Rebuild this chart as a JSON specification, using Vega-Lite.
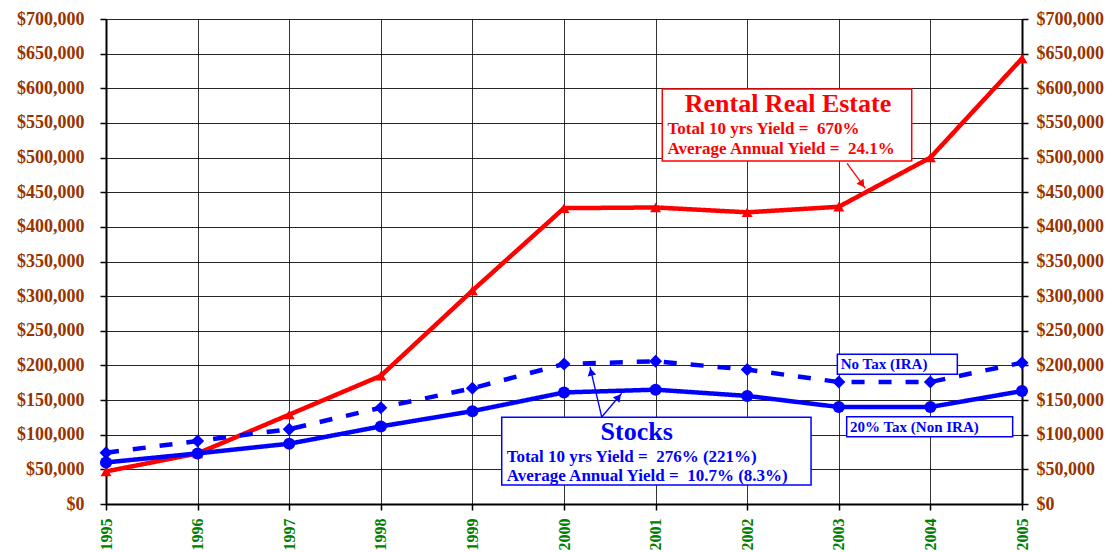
{
  "$schema": "https://vega.github.io/schema/vega-lite/v6.json",
  "autosize": {"type": "none"},
  "width": 916,
  "height": 485,
  "padding": {"left": 106, "top": 19, "right": 93, "bottom": 48},
  "background": "white",
  "config": {
    "view": {"stroke": null},
    "axisX": {
      "format": "d",
      "labelAngle": 270, "labelAlign": "right", "labelBaseline": "middle",
      "labelFont": "Liberation Serif", "labelFontWeight": "bold", "labelFontSize": 16,
      "labelColor": "#008000", "labelPadding": 8, "labelOverlap": false,
      "tickSize": 6, "tickColor": "#000", "tickWidth": 1.5,
      "domainColor": "#000", "domainWidth": 2,
      "grid": true, "gridColor": "#000", "gridWidth": 1, "gridOpacity": 0.8
    }
  },
  "datasets": {
    "series": [
      {"year": 1995, "series": "Rental Real Estate", "value": 47000},
      {"year": 1996, "series": "Rental Real Estate", "value": 73000},
      {"year": 1997, "series": "Rental Real Estate", "value": 129000},
      {"year": 1998, "series": "Rental Real Estate", "value": 185000},
      {"year": 1999, "series": "Rental Real Estate", "value": 308000},
      {"year": 2000, "series": "Rental Real Estate", "value": 427000},
      {"year": 2001, "series": "Rental Real Estate", "value": 428000},
      {"year": 2002, "series": "Rental Real Estate", "value": 421000},
      {"year": 2003, "series": "Rental Real Estate", "value": 429000},
      {"year": 2004, "series": "Rental Real Estate", "value": 500000},
      {"year": 2005, "series": "Rental Real Estate", "value": 643000},
      {"year": 1995, "series": "No Tax (IRA)", "value": 74000},
      {"year": 1996, "series": "No Tax (IRA)", "value": 91000},
      {"year": 1997, "series": "No Tax (IRA)", "value": 108000},
      {"year": 1998, "series": "No Tax (IRA)", "value": 139000},
      {"year": 1999, "series": "No Tax (IRA)", "value": 167000},
      {"year": 2000, "series": "No Tax (IRA)", "value": 202000},
      {"year": 2001, "series": "No Tax (IRA)", "value": 206000},
      {"year": 2002, "series": "No Tax (IRA)", "value": 194000},
      {"year": 2003, "series": "No Tax (IRA)", "value": 176000},
      {"year": 2004, "series": "No Tax (IRA)", "value": 176000},
      {"year": 2005, "series": "No Tax (IRA)", "value": 204000},
      {"year": 1995, "series": "20% Tax (Non IRA)", "value": 60000},
      {"year": 1996, "series": "20% Tax (Non IRA)", "value": 73000},
      {"year": 1997, "series": "20% Tax (Non IRA)", "value": 87000},
      {"year": 1998, "series": "20% Tax (Non IRA)", "value": 112000},
      {"year": 1999, "series": "20% Tax (Non IRA)", "value": 134000},
      {"year": 2000, "series": "20% Tax (Non IRA)", "value": 161000},
      {"year": 2001, "series": "20% Tax (Non IRA)", "value": 165000},
      {"year": 2002, "series": "20% Tax (Non IRA)", "value": 156000},
      {"year": 2003, "series": "20% Tax (Non IRA)", "value": 140000},
      {"year": 2004, "series": "20% Tax (Non IRA)", "value": 140000},
      {"year": 2005, "series": "20% Tax (Non IRA)", "value": 163000}
    ],
    "boxes": [
      {"group": "rental", "x": 2001.073, "x2": 2003.796, "y": 599000, "y2": 495000},
      {"group": "stocks", "x": 1999.32, "x2": 2002.697, "y": 125100, "y2": 27400},
      {"group": "stocks", "x": 2002.984, "x2": 2004.294, "y": 216100, "y2": 187200},
      {"group": "stocks", "x": 2003.086, "x2": 2004.898, "y": 126000, "y2": 97100}
    ],
    "titles": [
      {"group": "rental", "x": 2002.445, "y": 577000, "text": "Rental Real Estate"},
      {"group": "stocks", "x": 2000.794, "y": 103500, "text": "Stocks"}
    ],
    "notes": [
      {"group": "rental", "x": 2001.13, "y": 540800, "text": "Total 10 yrs Yield = \u00a0670%"},
      {"group": "rental", "x": 2001.13, "y": 512400, "text": "Average Annual Yield = \u00a024.1%"},
      {"group": "stocks", "x": 1999.374, "y": 68300, "text": "Total 10 yrs Yield = \u00a0276% (221%)"},
      {"group": "stocks", "x": 1999.374, "y": 40800, "text": "Average Annual Yield = \u00a010.7% (8.3%)"}
    ],
    "labels": [
      {"group": "stocks", "x": 2003.021, "y": 202000, "text": "No Tax (IRA)"},
      {"group": "stocks", "x": 2003.122, "y": 111600, "text": "20% Tax (Non IRA)"}
    ],
    "arrows": [
      {"group": "rental", "x": 2003.09, "y": 491700, "x2": 2003.29, "y2": 455600, "hx": 2003.255, "hy": 461500, "angle": 145},
      {"group": "stocks", "x": 2000.412, "y": 125600, "x2": 2000.284, "y2": 197700, "hx": 2000.296, "hy": 190800, "angle": 347},
      {"group": "stocks", "x": 2000.412, "y": 125600, "x2": 2000.63, "y2": 159800, "hx": 2000.596, "hy": 154300, "angle": 40}
    ]
  },
  "resolve": {
    "axis": {"y": "independent"},
    "scale": {"color": "independent", "size": "independent", "shape": "independent", "strokeDash": "independent", "stroke": "independent"}
  },
  "layer": [
    {
      "data": {"name": "series"},
      "mark": {"type": "line", "strokeWidth": 4.5},
      "encoding": {
        "x": {
          "field": "year", "type": "quantitative", "title": null,
          "scale": {"domain": [1995, 2005], "nice": false, "zero": false},
          "axis": {"values": [1995, 1996, 1997, 1998, 1999, 2000, 2001, 2002, 2003, 2004, 2005]}
        },
        "y": {
          "field": "value", "type": "quantitative",
          "scale": {"domain": [0, 700000], "nice": false},
          "axis": {
            "orient": "left", "title": null, "format": "$,.0f",
            "values": [0, 50000, 100000, 150000, 200000, 250000, 300000, 350000, 400000, 450000, 500000, 550000, 600000, 650000, 700000],
            "labelFont": "Liberation Serif", "labelFontWeight": "bold", "labelFontSize": 18,
            "labelColor": "#993300", "labelPadding": 16, "labelOverlap": false,
            "tickSize": 6, "tickColor": "#000", "tickWidth": 1.5,
            "domainColor": "#000", "domainWidth": 2,
            "grid": true, "gridColor": "#000", "gridWidth": 1, "gridOpacity": 0.85
          }
        },
        "color": {
          "field": "series", "type": "nominal", "legend": null,
          "scale": {"domain": ["No Tax (IRA)", "20% Tax (Non IRA)", "Rental Real Estate"], "range": ["#0000FF", "#0000FF", "#FF0000"]}
        },
        "strokeDash": {
          "field": "series", "type": "nominal", "legend": null,
          "scale": {"domain": ["No Tax (IRA)", "20% Tax (Non IRA)", "Rental Real Estate"], "range": [[13, 14], [1, 0], [1, 0]]}
        }
      }
    },
    {
      "data": {"name": "series"},
      "mark": {"type": "point", "filled": true, "opacity": 1},
      "encoding": {
        "x": {"field": "year", "type": "quantitative", "title": null, "axis": {"values": [1995, 1996, 1997, 1998, 1999, 2000, 2001, 2002, 2003, 2004, 2005]}},
        "y": {
          "field": "value", "type": "quantitative",
          "axis": {
            "orient": "right", "title": null, "format": "$,.0f",
            "values": [0, 50000, 100000, 150000, 200000, 250000, 300000, 350000, 400000, 450000, 500000, 550000, 600000, 650000, 700000],
            "labelFont": "Liberation Serif", "labelFontWeight": "bold", "labelFontSize": 18,
            "labelColor": "#993300", "labelPadding": 8, "labelOverlap": false,
            "tickSize": 6, "tickColor": "#000", "tickWidth": 1.5,
            "domainColor": "#000", "domainWidth": 2,
            "grid": false
          }
        },
        "color": {
          "field": "series", "type": "nominal", "legend": null,
          "scale": {"domain": ["No Tax (IRA)", "20% Tax (Non IRA)", "Rental Real Estate"], "range": ["#0000FF", "#0000FF", "#FF0000"]}
        },
        "shape": {
          "field": "series", "type": "nominal", "legend": null,
          "scale": {"domain": ["No Tax (IRA)", "20% Tax (Non IRA)", "Rental Real Estate"], "range": ["diamond", "circle", "triangle-up"]}
        },
        "size": {
          "field": "series", "type": "nominal", "legend": null,
          "scale": {"domain": ["No Tax (IRA)", "20% Tax (Non IRA)", "Rental Real Estate"], "range": [170, 120, 260]}
        }
      }
    },
    {
      "data": {"name": "arrows"},
      "mark": {"type": "rule", "strokeWidth": 1.3},
      "encoding": {
        "x": {"field": "x", "type": "quantitative", "title": null, "axis": {"values": [1995, 1996, 1997, 1998, 1999, 2000, 2001, 2002, 2003, 2004, 2005]}},
        "y": {"field": "y", "type": "quantitative", "axis": null},
        "x2": {"field": "x2"},
        "y2": {"field": "y2"},
        "color": {"field": "group", "type": "nominal", "legend": null, "scale": {"domain": ["rental", "stocks"], "range": ["#FF0000", "#0000FF"]}}
      }
    },
    {
      "data": {"name": "arrows"},
      "mark": {"type": "point", "shape": "triangle-up", "filled": true, "opacity": 1, "size": 75},
      "encoding": {
        "x": {"field": "hx", "type": "quantitative", "title": null, "axis": {"values": [1995, 1996, 1997, 1998, 1999, 2000, 2001, 2002, 2003, 2004, 2005]}},
        "y": {"field": "hy", "type": "quantitative", "axis": null},
        "angle": {"field": "angle", "type": "quantitative", "scale": null},
        "color": {"field": "group", "type": "nominal", "legend": null, "scale": {"domain": ["rental", "stocks"], "range": ["#FF0000", "#0000FF"]}}
      }
    },
    {
      "data": {"name": "boxes"},
      "mark": {"type": "rect", "fill": "white", "strokeWidth": 1.5},
      "encoding": {
        "x": {"field": "x", "type": "quantitative", "title": null, "axis": {"values": [1995, 1996, 1997, 1998, 1999, 2000, 2001, 2002, 2003, 2004, 2005]}},
        "x2": {"field": "x2"},
        "y": {"field": "y", "type": "quantitative", "axis": null},
        "y2": {"field": "y2"},
        "stroke": {"field": "group", "type": "nominal", "legend": null, "scale": {"domain": ["rental", "stocks"], "range": ["#FF0000", "#0000FF"]}}
      }
    },
    {
      "data": {"name": "titles"},
      "mark": {"type": "text", "font": "Liberation Serif", "fontWeight": "bold", "fontSize": 26, "align": "center", "baseline": "middle"},
      "encoding": {
        "x": {"field": "x", "type": "quantitative", "title": null, "axis": {"values": [1995, 1996, 1997, 1998, 1999, 2000, 2001, 2002, 2003, 2004, 2005]}},
        "y": {"field": "y", "type": "quantitative", "axis": null},
        "text": {"field": "text"},
        "color": {"field": "group", "type": "nominal", "legend": null, "scale": {"domain": ["rental", "stocks"], "range": ["#FF0000", "#0000FF"]}}
      }
    },
    {
      "data": {"name": "notes"},
      "mark": {"type": "text", "font": "Liberation Serif", "fontWeight": "bold", "fontSize": 17, "align": "left", "baseline": "middle"},
      "encoding": {
        "x": {"field": "x", "type": "quantitative", "title": null, "axis": {"values": [1995, 1996, 1997, 1998, 1999, 2000, 2001, 2002, 2003, 2004, 2005]}},
        "y": {"field": "y", "type": "quantitative", "axis": null},
        "text": {"field": "text"},
        "color": {"field": "group", "type": "nominal", "legend": null, "scale": {"domain": ["rental", "stocks"], "range": ["#FF0000", "#0000FF"]}}
      }
    },
    {
      "data": {"name": "labels"},
      "mark": {"type": "text", "font": "Liberation Serif", "fontWeight": "bold", "fontSize": 15, "align": "left", "baseline": "middle", "color": "#0000FF"},
      "encoding": {
        "x": {"field": "x", "type": "quantitative", "title": null, "axis": {"values": [1995, 1996, 1997, 1998, 1999, 2000, 2001, 2002, 2003, 2004, 2005]}},
        "y": {"field": "y", "type": "quantitative", "axis": null},
        "text": {"field": "text"}
      }
    }
  ]
}
